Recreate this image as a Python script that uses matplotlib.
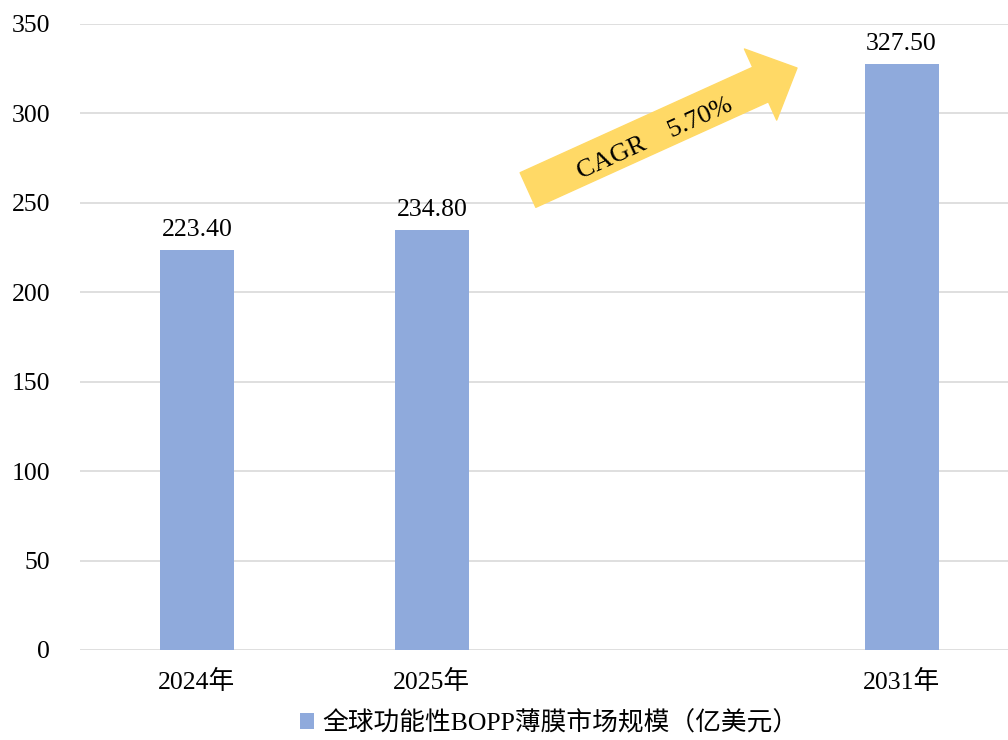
import matplotlib.pyplot as plt
from matplotlib.patches import FancyArrowPatch, ArrowStyle

years = ['2024年', '2025年', '2031年']
slots = [0, 1, 3]          # 2026-2030 left out, gap of one slot
values = [223.40, 234.80, 327.50]
series_name = '全球功能性BOPP薄膜市场规模（亿美元）'
cagr_text = 'CAGR    5.70%'

plt.rcParams['font.family'] = ['Liberation Serif', 'Noto Sans CJK SC']

W, H = 1008, 740
fig = plt.figure(figsize=(W / 100, H / 100), dpi=100)
ax = fig.add_axes([79.5 / W, 1 - 650 / H, 939.5 / W, 626 / H])

bars = ax.bar(slots, values, width=0.315, color='#8FAADC', label=series_name, zorder=3)
for b, v in zip(bars, values):
    ax.text(b.get_x() + b.get_width() / 2, v + 5, f'{v:.2f}', ha='center', va='bottom',
            fontsize=18.5, color='#000000')

ax.set_xlim(-0.5, 3.5)
ax.set_ylim(0, 350)
ax.set_yticks(range(0, 351, 50))
ax.set_xticks(slots)
ax.set_xticklabels(years)
ax.tick_params(axis='both', length=0, labelsize=18.5, colors='#000000')
ax.tick_params(axis='y', pad=21)
ax.tick_params(axis='x', pad=14)
ax.grid(axis='y', color='#D9D9D9', linewidth=1.2, zorder=0)
for s in ax.spines.values():
    s.set_visible(False)

# CAGR arrow, drawn in figure pixels
p2f = lambda x, y: (x / W, 1 - y / H)
k = 0.72  # px -> pt at 100 dpi
arrow = FancyArrowPatch(p2f(528, 190), p2f(797, 68), transform=fig.transFigure,
                        arrowstyle=ArrowStyle.Simple(head_length=40 * k, head_width=78 * k,
                                                     tail_width=38 * k),
                        color='#FFD966', shrinkA=0, shrinkB=0, mutation_scale=1, zorder=5)
fig.patches.append(arrow)
fig.text(*p2f(655, 139), cagr_text, rotation=24.4, ha='center', va='center',
         fontsize=19, color='#000000', rotation_mode='anchor', zorder=6)

leg = fig.legend(handles=[bars], labels=[series_name], loc='center',
                 bbox_to_anchor=(549 / W, 1 - 723 / H), frameon=False, fontsize=18.5,
                 handlelength=0.55, handleheight=0.55, handletextpad=0.3)

fig.savefig('out.png', dpi=100)
